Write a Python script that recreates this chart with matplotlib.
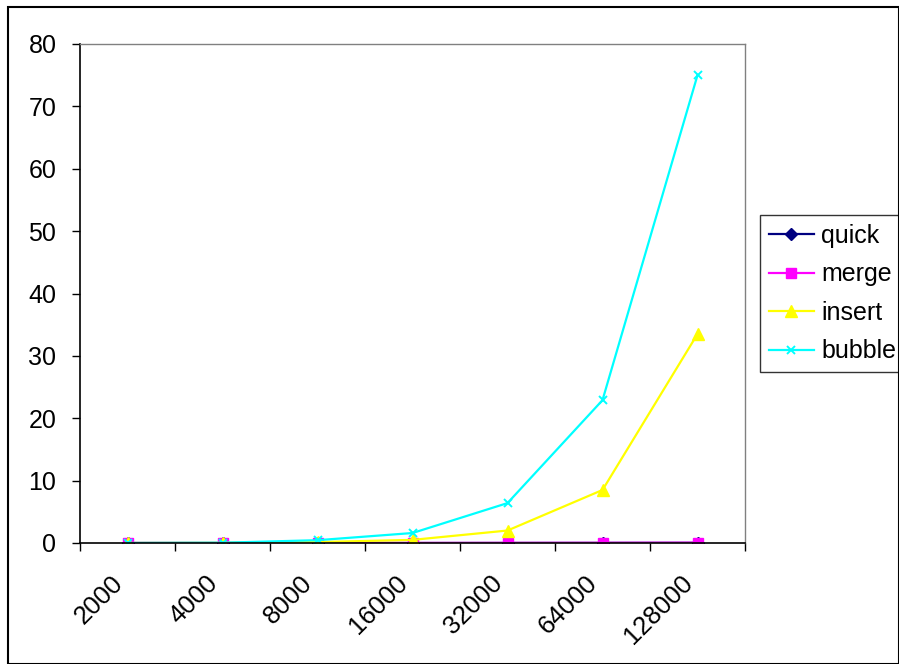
import numpy as np
import matplotlib.pyplot as plt
import matplotlib.transforms as mtransforms
from matplotlib.patches import Rectangle

plt.rcParams['font.family'] = ['Liberation Sans', 'DejaVu Sans']

sizes = ['2000', '4000', '8000', '16000', '32000', '64000', '128000']
quick = [0.0, 0.0, 0.0, 0.0, 0.01, 0.02, 0.03]
merge = [0.0, 0.0, 0.01, 0.01, 0.02, 0.03, 0.05]
insert = [0.0, 0.02, 0.15, 0.5, 2.0, 8.5, 33.5]
bubble = [0.0, 0.05, 0.45, 1.6, 6.4, 22.9, 75.0]

fig = plt.figure(figsize=(8.99, 6.64), dpi=100)
ax = fig.add_axes([80/899, 1-543/664, 665/899, 499/664])

x = np.arange(len(sizes))
ax.plot(x, quick, color='#000080', marker='D', markersize=6, lw=1.6, label='quick')
ax.plot(x, merge, color='#ff00ff', marker='s', markersize=7, lw=1.6, label='merge')
ax.plot(x, insert, color='#ffff00', marker='^', markersize=9, lw=1.6, label='insert')
ax.plot(x, bubble, color='#00ffff', marker='x', markersize=6, mew=1.4, lw=1.6, label='bubble')

ax.set_xlim(-0.5, len(sizes) - 0.5)
ax.set_ylim(0, 80)
ax.set_yticks(range(0, 81, 10))
ax.set_xticks(x)
ax.set_xticklabels(sizes, rotation=45, ha='right', va='center', rotation_mode='anchor')
ax.set_xticks(np.arange(-0.5, len(sizes)), minor=True)
ax.tick_params(axis='x', which='major', length=0, pad=26, labelsize=18.5)
ax.tick_params(axis='x', which='minor', length=6, direction='out', width=1)
ax.tick_params(axis='y', length=6, direction='out', width=1, labelsize=18, pad=11)

# nudge the slanted category labels a little to the left
shift = mtransforms.ScaledTranslation(-8.5/100, 0, fig.dpi_scale_trans)
for lbl in ax.get_xticklabels():
    lbl.set_transform(lbl.get_transform() + shift)

for s in ['top', 'right']:
    ax.spines[s].set_color('#808080')
    ax.spines[s].set_linewidth(1)
for s in ['left', 'bottom']:
    ax.spines[s].set_color('black')
    ax.spines[s].set_linewidth(1.2)

leg = ax.legend(loc='upper left', bbox_to_anchor=(760/899, 1-215/664), bbox_transform=fig.transFigure,
                frameon=True, fancybox=False, fontsize=18, handlelength=1.8, handletextpad=0.3,
                borderpad=0.35, labelspacing=0.58, borderaxespad=0)
leg.get_frame().set_edgecolor('black')
leg.get_frame().set_linewidth(1)

fig.patches.append(Rectangle((8/899, 0), 891/899, 1-7/664, transform=fig.transFigure,
                             fill=False, edgecolor='black', lw=1.5))

fig.savefig('out.png', dpi=100)
